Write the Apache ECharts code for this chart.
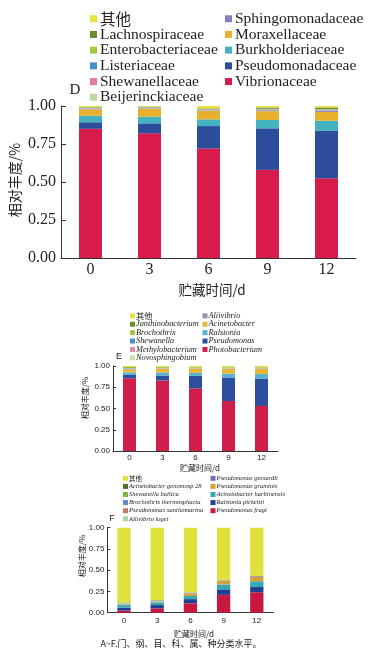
<!DOCTYPE html>
<html><head><meta charset="utf-8">
<script src="https://cdn.jsdelivr.net/npm/echarts@6/dist/echarts.min.js"></script>
<style>
html,body{margin:0;padding:0;background:#fff;width:389px;height:650px;overflow:hidden;}
.p{position:absolute;left:0;width:389px;}
</style></head>
<body>
<div id="d" class="p" style="top:0;height:300px"></div>
<div id="e" class="p" style="top:300px;height:174px"></div>
<div id="f" class="p" style="top:474px;height:176px"></div>
<script>
// ---------- shared ----------
const days = ['0', '3', '6', '9', '12'];
const yTickLabels = ['0.00', '0.25', '0.50', '0.75', '1.00'];
const xTitle = '贮藏时间/d';
const yTitle = '相对丰度/%';
const caption = 'A~F.门、纲、目、科、属、种分类水平。';

// ---------- D: family ----------
const vibrionaceae       = [0.850, 0.820, 0.720, 0.580, 0.525];
const pseudomonadaceae   = [0.043, 0.066, 0.148, 0.273, 0.313];
const burkholderiaceae   = [0.043, 0.044, 0.044, 0.055, 0.065];
const moraxellaceae      = [0.042, 0.050, 0.055, 0.058, 0.058];
const sphingomonadaceae  = [0.004, 0.004, 0.004, 0.006, 0.009];
const beijerinckiaceae   = [0.002, 0.002, 0.002, 0.002, 0.002];
const shewanellaceae     = [0.002, 0.002, 0.003, 0.002, 0.002];
const listeriaceae       = [0.002, 0.002, 0.002, 0.003, 0.003];
const enterobacteriaceae = [0.002, 0.002, 0.002, 0.003, 0.003];
const lachnospiraceae    = [0.003, 0.004, 0.004, 0.008, 0.010];
const othersD            = [0.007, 0.004, 0.016, 0.010, 0.010];

// ---------- E: genus ----------
const photobacterium    = [0.855, 0.830, 0.737, 0.588, 0.530];
const pseudomonas       = [0.040, 0.058, 0.147, 0.277, 0.323];
const ralstonia         = [0.030, 0.035, 0.035, 0.045, 0.052];
const acinetobacter     = [0.035, 0.045, 0.050, 0.060, 0.065];
const aliivibrio        = [0.006, 0.005, 0.004, 0.004, 0.004];
const novosphingobium   = [0.002, 0.002, 0.002, 0.002, 0.002];
const methylobacterium  = [0.002, 0.002, 0.002, 0.002, 0.002];
const shewanella        = [0.004, 0.003, 0.003, 0.002, 0.002];
const brochothrix       = [0.003, 0.003, 0.002, 0.002, 0.002];
const janthinobacterium = [0.009, 0.004, 0.003, 0.003, 0.003];
const othersE           = [0.014, 0.013, 0.015, 0.015, 0.015];

// ---------- F: species ----------
const pFragi          = [0.025, 0.050, 0.110, 0.210, 0.240];
const rPickettii      = [0.035, 0.040, 0.050, 0.065, 0.062];
const aHarbinensis    = [0.030, 0.032, 0.036, 0.057, 0.068];
const pGraminis       = [0.006, 0.008, 0.030, 0.045, 0.050];
const pGessardii      = [0.003, 0.003, 0.004, 0.004, 0.008];
const aLogei          = [0.012, 0.008, 0.004, 0.002, 0.002];
const pXanthomarina   = [0.002, 0.002, 0.002, 0.001, 0.001];
const bThermosphacta  = [0.003, 0.003, 0.002, 0.001, 0.001];
const sBaltica        = [0.002, 0.002, 0.001, 0.001, 0.001];
const aGenomosp28     = [0.002, 0.002, 0.001, 0.001, 0.002];
const othersF         = [0.880, 0.850, 0.760, 0.613, 0.565];

const SERIF = "'Liberation Serif','Times New Roman','Noto Sans CJK SC',serif";
const SANS = "'Liberation Sans',Arial,'Noto Sans CJK SC',sans-serif";
const CJK = "'Noto Sans CJK SC',sans-serif";

function build(cfg) {
  const series = cfg.stack.map(s => ({
    name: s[0], type: 'bar', stack: 'all', data: s[1], barWidth: cfg.barWidth,
    itemStyle: { color: s[2] }, emphasis: { disabled: true }, animation: false
  }));
  const pad = [0, 0, 0, cfg.textShift];
  const legStyle = {
    fontSize: cfg.legFont, fontFamily: SERIF, color: '#222', lineHeight: cfg.legLine,
    rich: {
      n: { fontSize: cfg.legFont, fontFamily: cfg.legCjk, color: '#222', lineHeight: cfg.legLine, padding: pad },
      i: { fontSize: cfg.legFont, fontFamily: SERIF, fontStyle: cfg.italic ? 'italic' : 'normal', color: '#222', lineHeight: cfg.legLine, padding: pad }
    }
  };
  const fmt = name => (/[\u4e00-\u9fff]/.test(name) ? '{n|' + name + '}' : '{i|' + name + '}');
  const legend = cfg.cols.map(c => ({
    orient: 'vertical', left: c.left, top: c.top, padding: 0,
    itemWidth: cfg.mark, itemHeight: cfg.mark, itemGap: cfg.legGap, icon: 'rect',
    selectedMode: false, data: c.names, textStyle: legStyle, formatter: fmt
  }));
  const txt = (t, x, y, size, fam, rot, color) => ({
    type: 'text', x: x, y: y, rotation: rot || 0, silent: true,
    style: { text: t, fontSize: size, fontFamily: fam, fill: color || '#222',
      align: 'center', verticalAlign: 'middle', textAlign: 'center', textVerticalAlign: 'middle' }
  });
  return {
    animation: false,
    legend: legend,
    grid: { left: cfg.grid[0], top: cfg.grid[1], width: cfg.grid[2], height: cfg.grid[3], containLabel: false },
    xAxis: {
      type: 'category', data: days, boundaryGap: true,
      axisLine: { lineStyle: { color: '#333', width: 1 } },
      axisTick: { inside: true, length: cfg.tick, lineStyle: { color: '#333' } },
      axisLabel: { fontSize: cfg.tickFont, fontFamily: cfg.tickFam, color: '#222', margin: cfg.xMargin }
    },
    yAxis: {
      type: 'value', min: 0, max: 1, interval: 0.25,
      axisLine: { show: true, lineStyle: { color: '#333', width: 1 } },
      axisTick: { show: true, inside: true, length: cfg.tick, lineStyle: { color: '#333' } },
      splitLine: { show: false },
      axisLabel: { fontSize: cfg.tickFont, fontFamily: cfg.tickFam, color: '#222', margin: cfg.yMargin,
        formatter: v => yTickLabels[Math.round(v / 0.25)] }
    },
    graphic: cfg.texts.map(t => txt.apply(null, t)),
    series: series
  };
}

// ---- D ----
const cD = echarts.init(document.getElementById('d'));
cD.setOption(build({
  grid: [61, 106, 295, 152], barWidth: 23, tick: 5, tickFont: 16, tickFam: SERIF, xMargin: 4, yMargin: 5,
  legFont: 15.5, legLine: 14, legGap: 0.2, mark: 7, italic: false, legCjk: CJK, textShift: -2,
  cols: [
    { left: 90, top: 11, names: ['其他', 'Lachnospiraceae', 'Enterobacteriaceae', 'Listeriaceae', 'Shewanellaceae', 'Beijerinckiaceae'] },
    { left: 225, top: 11, names: ['Sphingomonadaceae', 'Moraxellaceae', 'Burkholderiaceae', 'Pseudomonadaceae', 'Vibrionaceae'] }
  ],
  stack: [
    ['Vibrionaceae', vibrionaceae, '#d81b4a'],
    ['Pseudomonadaceae', pseudomonadaceae, '#2c4c9c'],
    ['Burkholderiaceae', burkholderiaceae, '#45b3bf'],
    ['Moraxellaceae', moraxellaceae, '#e8b02c'],
    ['Sphingomonadaceae', sphingomonadaceae, '#8a7cc0'],
    ['Beijerinckiaceae', beijerinckiaceae, '#bcdca4'],
    ['Shewanellaceae', shewanellaceae, '#e07ca2'],
    ['Listeriaceae', listeriaceae, '#4a90cc'],
    ['Enterobacteriaceae', enterobacteriaceae, '#a2c83c'],
    ['Lachnospiraceae', lachnospiraceae, '#6e8a2c'],
    ['其他', othersD, '#e6e23e']
  ],
  texts: [
    [yTitle, 15, 180, 14, CJK, Math.PI / 2],
    [xTitle, 212, 290, 13.5, CJK, 0],
    ['D', 75, 90, 15, SERIF, 0]
  ]
}));

// ---- E ----
const cE = echarts.init(document.getElementById('e'));
cE.setOption(build({
  grid: [113, 66, 165, 85], barWidth: 13, tick: 3, tickFont: 8, tickFam: SANS, xMargin: 3, yMargin: 3,
  legFont: 8.3, legLine: 8, legGap: 0.1, mark: 5, italic: true, legCjk: CJK, textShift: -4,
  cols: [
    { left: 130, top: 11.7, names: ['其他', 'Janthinobacterium', 'Brochothrix', 'Shewanella', 'Methylobacterium', 'Novosphingobium'] },
    { left: 202.5, top: 11.7, names: ['Aliivibrio', 'Acinetobacter', 'Ralstonia', 'Pseudomonas', 'Photobacterium'] }
  ],
  stack: [
    ['Photobacterium', photobacterium, '#d01e4a'],
    ['Pseudomonas', pseudomonas, '#2c4f9f'],
    ['Ralstonia', ralstonia, '#56b2d2'],
    ['Acinetobacter', acinetobacter, '#e8b834'],
    ['Aliivibrio', aliivibrio, '#9890b2'],
    ['Novosphingobium', novosphingobium, '#c4e2ac'],
    ['Methylobacterium', methylobacterium, '#e28cac'],
    ['Shewanella', shewanella, '#4c8ec8'],
    ['Brochothrix', brochothrix, '#a2c840'],
    ['Janthinobacterium', janthinobacterium, '#6b8e23'],
    ['其他', othersE, '#e6e23e']
  ],
  texts: [
    [yTitle, 85, 98, 8, CJK, Math.PI / 2],
    [xTitle, 200, 168, 8, CJK, 0],
    ['E', 119, 57, 9, SANS, 0]
  ]
}));

// ---- F ----
const cF = echarts.init(document.getElementById('f'));
cF.setOption(build({
  grid: [107.4, 53.7, 166, 85], barWidth: 13.3, tick: 3, tickFont: 8, tickFam: SANS, xMargin: 4, yMargin: 3,
  legFont: 6.5, legLine: 8, legGap: 0.1, mark: 5, italic: true, legCjk: CJK, textShift: -4,
  cols: [
    { left: 123, top: 0.3, names: ['其他', 'Acinetobacter genomosp 28', 'Shewanella baltica', 'Brochothrix thermosphacta', 'Pseudomonas xanthomarina', 'Aliivibrio logei'] },
    { left: 210.5, top: 0.3, names: ['Pseudomonas gessardii', 'Pseudomonas graminis', 'Acinetobacter harbinensis', 'Ralstonia pickettii', 'Pseudomonas fragi'] }
  ],
  stack: [
    ['Pseudomonas fragi', pFragi, '#c8183f'],
    ['Ralstonia pickettii', rPickettii, '#22408f'],
    ['Acinetobacter harbinensis', aHarbinensis, '#36aab4'],
    ['Pseudomonas graminis', pGraminis, '#d8a038'],
    ['Pseudomonas gessardii', pGessardii, '#7a68b8'],
    ['Aliivibrio logei', aLogei, '#a8d8a0'],
    ['Pseudomonas xanthomarina', pXanthomarina, '#c87868'],
    ['Brochothrix thermosphacta', bThermosphacta, '#5b8cc8'],
    ['Shewanella baltica', sBaltica, '#7fb33a'],
    ['Acinetobacter genomosp 28', aGenomosp28, '#4e7020'],
    ['其他', othersF, '#dfe23c']
  ],
  texts: [
    [yTitle, 82, 82, 8, CJK, Math.PI / 2],
    [xTitle, 194, 160, 8, CJK, 0],
    ['F', 112, 45, 9, SANS, 0],
    [caption, 181, 170, 9, CJK, 0]
  ]
}));
</script>
</body></html>
